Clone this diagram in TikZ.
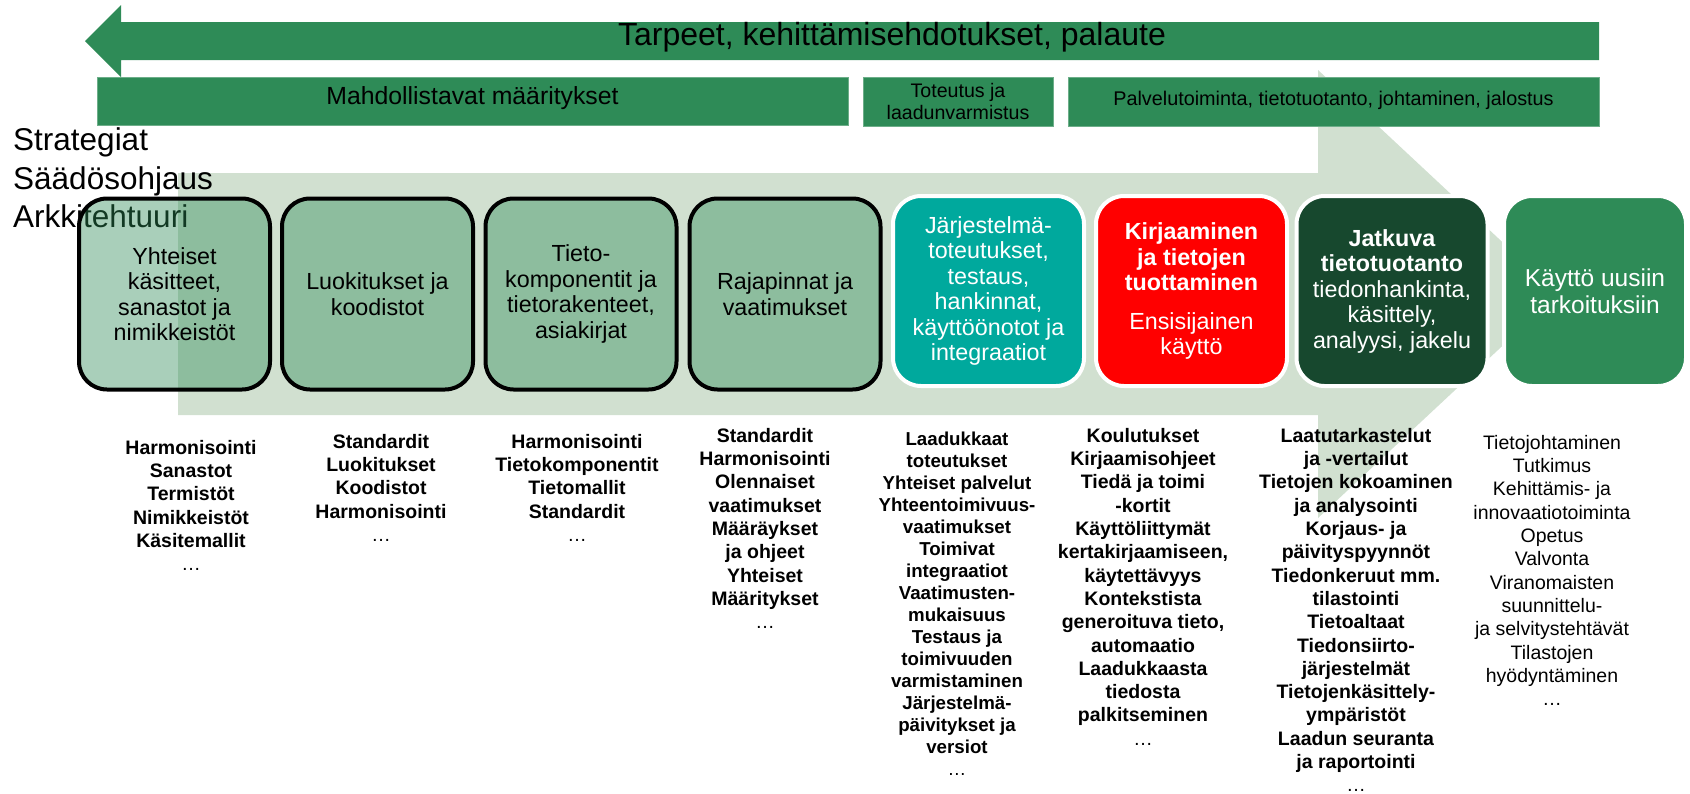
\documentclass[tikz,border=0pt]{standalone}
\usepackage{fontspec}
\setmainfont{Liberation Sans}
\definecolor{sea}{HTML}{2E8B57}
\definecolor{lightbg}{HTML}{D1E0D0}
\definecolor{tealbox}{HTML}{00A99D}
\definecolor{darkgrn}{HTML}{17482E}
\definecolor{redbox}{HTML}{FF0000}
\newcommand{\myell}{{\mdseries …}}
\tikzset{
  barbox/.style={rectangle, fill=sea, draw=sea!70!white, line width=0.8pt, inner sep=0pt, align=center},
  boxbase/.style={rectangle, rounded corners=28pt, minimum width=191pt, minimum height=191pt,
    line width=4pt, align=center, inner sep=0pt, font=\fontsize{23.3}{25.5}\selectfont},
  defbox/.style={boxbase, draw=black, fill=sea, fill opacity=0.41, text opacity=1, text=black},
  colbox/.style={boxbase, draw=white, text=white, minimum height=190pt},
  col/.style={anchor=north, align=center, inner sep=0pt, font=\bfseries\fontsize{19.5}{23.3}\selectfont},
}
\begin{document}
\begin{tikzpicture}[x=1pt,y=-1pt]
\useasboundingbox (0,0) rectangle (1690,793);

% large light background arrow
\fill[lightbg] (178,173) -- (1318,173) -- (1318,70) -- (1558,294) -- (1318,518) -- (1318,415) -- (178,415) -- cycle;

% top feedback arrow
\fill[sea] (1599,22) -- (121,22) -- (121,5) -- (85,41) -- (121,77) -- (121,60) -- (1599,60) -- cycle;
\node[inner sep=0pt, text height=0.72em, text depth=0pt, font=\fontsize{32}{36}\selectfont] (tarpeet) at (892,42) {Tarpeet, kehittämisehdotukset, palaute};

% second row bars
\node[barbox, minimum width=751pt, minimum height=48pt, text height=0.72em, text depth=0pt,
      font=\fontsize{24.8}{28}\selectfont] (mahd) at (472.5,101) {Mahdollistavat määritykset};
\node[barbox, minimum width=190pt, minimum height=49pt, font=\fontsize{19.6}{22.7}\selectfont] (tot) at (958,101.5) {Toteutus ja\\laadunvarmistus};
\node[barbox, minimum width=531pt, minimum height=49pt, text height=0.72em, text depth=0pt,
      font=\fontsize{19.8}{22.7}\selectfont] (palv) at (1333.5,101.5) {Palvelutoiminta, tietotuotanto, johtaminen, jalostus};

% left labels
\node[anchor=north west, align=left, inner sep=0pt, font=\fontsize{31.5}{38.5}\selectfont] (strat) at (13,127.5) {Strategiat\\Säädösohjaus\\Arkkitehtuuri};

% process boxes
\node[defbox] (b1) at (174.5,294) {Yhteiset\\käsitteet,\\sanastot ja\\nimikkeistöt};
\node[defbox] (b2) at (377.5,294) {Luokitukset ja\\koodistot};
\node[defbox] (b3) at (581,294) {Tieto-\\komponentit ja\\tietorakenteet,\\asiakirjat};
\node[defbox] (b4) at (785,294) {Rajapinnat ja\\vaatimukset};
\node[colbox, fill=tealbox] (b5) at (988.5,291) {Järjestelmä-\\toteutukset,\\testaus,\\hankinnat,\\käyttöönotot ja\\integraatiot};
\node[colbox, fill=redbox] (b6) at (1191.5,291) {\textbf{Kirjaaminen}\\\textbf{ja tietojen}\\\textbf{tuottaminen}\\[13pt]Ensisijainen\\käyttö};
\node[colbox, fill=darkgrn] (b7) at (1392,291) {\textbf{Jatkuva}\\\textbf{tietotuotanto}\\tiedonhankinta,\\käsittely,\\analyysi, jakelu};
\node[colbox, fill=sea, minimum width=182pt, font=\fontsize{24.5}{26.5}\selectfont] (b8) at (1595,291) {Käyttö uusiin\\tarkoituksiin};

% columns of items
\node[col] (c1) at (191,440) {Harmonisointi\\Sanastot\\Termistöt\\Nimikkeistöt\\Käsitemallit\\\myell};
\node[col] (c2) at (381,434) {Standardit\\Luokitukset\\Koodistot\\Harmonisointi\\\myell};
\node[col] (c3) at (577,434) {Harmonisointi\\Tietokomponentit\\Tietomallit\\Standardit\\\myell};
\node[col] (c4) at (765,428) {Standardit\\Harmonisointi\\Olennaiset\\vaatimukset\\Määräykset\\ja ohjeet\\Yhteiset\\Määritykset\\\myell};
\node[col, font=\bfseries\fontsize{18.7}{22}\selectfont] (c5) at (957,432) {Laadukkaat\\toteutukset\\Yhteiset palvelut\\Yhteentoimivuus-\\vaatimukset\\Toimivat\\integraatiot\\Vaatimusten-\\mukaisuus\\Testaus ja\\toimivuuden\\varmistaminen\\Järjestelmä-\\päivitykset ja\\versiot\\\myell};
\node[col] (c6) at (1143,428) {Koulutukset\\Kirjaamisohjeet\\Tiedä ja toimi\\-kortit\\Käyttöliittymät\\kertakirjaamiseen,\\käytettävyys\\Kontekstista\\generoituva tieto,\\automaatio\\Laadukkaasta\\tiedosta\\palkitseminen\\\myell};
\node[col] (c7) at (1356,428) {Laatutarkastelut\\ja -vertailut\\Tietojen kokoaminen\\ja analysointi\\Korjaus- ja\\päivityspyynnöt\\Tiedonkeruut mm.\\tilastointi\\Tietoaltaat\\Tiedonsiirto-\\järjestelmät\\Tietojenkäsittely-\\ympäristöt\\Laadun seuranta\\ja raportointi\\\myell};
\node[col, font=\mdseries\fontsize{19.5}{23.3}\selectfont] (c8) at (1552,435) {Tietojohtaminen\\Tutkimus\\Kehittämis- ja\\innovaatiotoiminta\\Opetus\\Valvonta\\Viranomaisten\\suunnittelu-\\ja selvitystehtävät\\Tilastojen\\hyödyntäminen\\\myell};
\end{tikzpicture}
\end{document}
